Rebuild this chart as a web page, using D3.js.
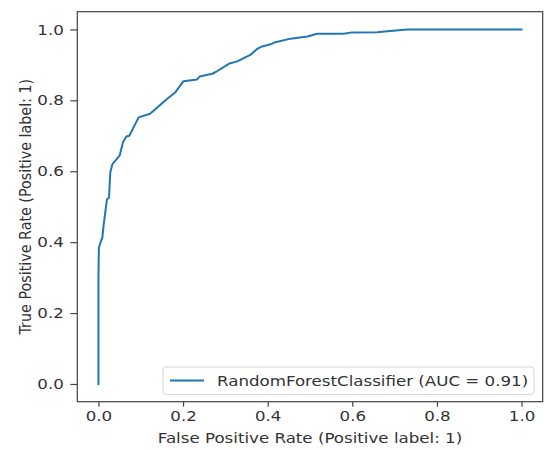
<!DOCTYPE html>
<html>
<head>
<meta charset="utf-8">
<script src="https://cdn.jsdelivr.net/npm/d3@7"></script>
<style>
  body { margin: 0; background: #fff; }
  text { font-family: "DejaVu Sans", sans-serif; fill: #333; }
</style>
</head>
<body>
<div id="chart"></div>
<script>
// ROC curve points
let fpr = [0, 0, 0.001, 0.008, 0.009, 0.012, 0.02, 0.025, 0.028, 0.033, 0.05, 0.058, 0.066, 0.073,
  0.095, 0.122, 0.162, 0.182, 0.201, 0.233, 0.239, 0.269, 0.28, 0.308, 0.328, 0.359, 0.375,
  0.387, 0.407, 0.418, 0.454, 0.494, 0.517, 0.58, 0.596, 0.659, 0.683, 0.73, 0.762, 1.0];
let tpr = [0, 0.3, 0.385, 0.41, 0.41, 0.446, 0.52, 0.526, 0.597, 0.62, 0.644, 0.682, 0.698, 0.70,
  0.752, 0.762, 0.804, 0.823, 0.854, 0.859, 0.867, 0.875, 0.882, 0.903, 0.91, 0.928, 0.945,
  0.952, 0.958, 0.964, 0.974, 0.980, 0.988, 0.988, 0.991, 0.992, 0.995, 1.0, 1.0, 1.0];
let ticks = [0, 0.2, 0.4, 0.6, 0.8, 1.0];
let legendLabel = "RandomForestClassifier (AUC = 0.91)";

let svgWidth = 547, svgHeight = 450;
let margin = { top: 11.7, right: 4.3, bottom: 48.3, left: 77.3 };
let width = svgWidth - margin.left - margin.right;
let height = svgHeight - margin.top - margin.bottom;

// the picture is a bit wider than tall, so text is stretched sideways
let sx = 1.165;
let fs = "14.3px";

let svg = d3.select("#chart").append("svg")
  .attr("width", svgWidth)
  .attr("height", svgHeight);

let g = svg.append("g")
  .attr("transform", `translate(${margin.left}, ${margin.top})`);

let x = d3.scaleLinear().domain([-0.05, 1.05]).range([0, width]);
let y = d3.scaleLinear().domain([-0.05, 1.05]).range([height, 0]);

// axes
let xAxis = g.append("g")
  .attr("transform", `translate(0, ${height})`)
  .call(d3.axisBottom(x).tickValues(ticks).tickFormat(d3.format(".1f")).tickSizeOuter(0).tickSize(5).tickPadding(4));
let yAxis = g.append("g")
  .call(d3.axisLeft(y).tickValues(ticks).tickFormat(d3.format(".1f")).tickSizeOuter(0).tickSize(7).tickPadding(5));

[xAxis, yAxis].forEach(a => {
  a.select(".domain").remove();
  a.selectAll(".tick line").attr("stroke", "#444").attr("stroke-width", 1.2);
  a.selectAll(".tick text").attr("font-size", fs).attr("fill", "#333")
    .attr("transform", `scale(${sx},1)`);
});
yAxis.selectAll(".tick text").attr("x", -13.5 / sx);

// frame
g.append("rect")
  .attr("width", width).attr("height", height)
  .attr("fill", "none").attr("stroke", "#444").attr("stroke-width", 1.2);

// curve
let pts = fpr.map((d, i) => [d, tpr[i]]);
g.append("path")
  .datum(pts)
  .attr("fill", "none")
  .attr("stroke", "#1f77b4")
  .attr("stroke-width", 2)
  .attr("stroke-linejoin", "round")
  .attr("stroke-linecap", "square")
  .attr("d", d3.line().x(d => x(d[0])).y(d => y(d[1])));

// legend
let lg = svg.append("g").attr("transform", "translate(163, 367)");
lg.append("rect")
  .attr("width", 371).attr("height", 27.5).attr("rx", 3)
  .attr("fill", "#fff").attr("fill-opacity", 0.8)
  .attr("stroke", "#d5d5d5");
lg.append("line")
  .attr("x1", 7).attr("x2", 41).attr("y1", 13.5).attr("y2", 13.5)
  .attr("stroke", "#1f77b4").attr("stroke-width", 2);
lg.append("text")
  .attr("transform", `translate(54, 19) scale(${sx},1)`)
  .attr("font-size", fs)
  .text(legendLabel);

// axis labels
svg.append("text")
  .attr("transform", `translate(${margin.left + width / 2}, 443) scale(${sx},1)`)
  .attr("text-anchor", "middle").attr("font-size", fs)
  .text("False Positive Rate (Positive label: 1)");
svg.append("text")
  .attr("transform", `translate(30.5, ${margin.top + height / 2}) rotate(-90) scale(1,${sx})`)
  .attr("text-anchor", "middle").attr("font-size", fs)
  .text("True Positive Rate (Positive label: 1)");
</script>
</body>
</html>
